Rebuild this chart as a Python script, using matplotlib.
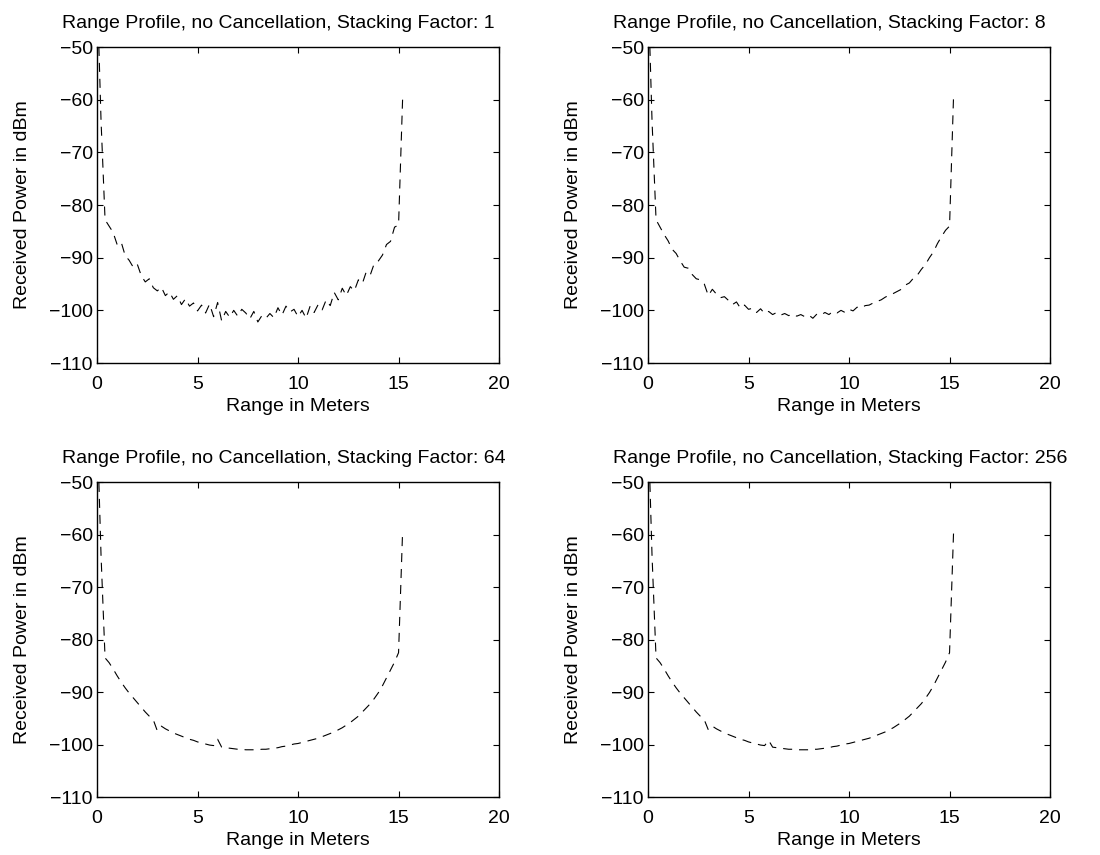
import matplotlib
matplotlib.use("Agg")
import matplotlib.pyplot as plt

plt.rcParams["font.family"] = ["Liberation Sans", "DejaVu Sans"]
plt.rcParams["font.size"] = 14
plt.rcParams["lines.scale_dashes"] = False

# range bins (m)
range_m = [0.0, 0.2, 0.4, 0.6, 0.8, 1.0, 1.2, 1.4, 1.6, 1.8,
           2.0, 2.2, 2.4, 2.6, 2.8, 3.0, 3.2, 3.4, 3.6, 3.8,
           4.0, 4.2, 4.4, 4.6, 4.8, 5.0, 5.2, 5.4, 5.6, 5.8,
           6.0, 6.2, 6.4, 6.6, 6.8, 7.0, 7.2, 7.4, 7.6, 7.8,
           8.0, 8.2, 8.4, 8.6, 8.8, 9.0, 9.2, 9.4, 9.6, 9.8,
           10.0, 10.2, 10.4, 10.6, 10.8, 11.0, 11.2, 11.4, 11.6, 11.8,
           12.0, 12.2, 12.4, 12.6, 12.8, 13.0, 13.2, 13.4, 13.6, 13.8,
           14.0, 14.2, 14.4, 14.6, 14.8, 15.0, 15.2]

# received power (dBm) per stacking factor
power_sf1 = [-38.0, -64.0, -82.8, -84.0, -85.2, -87.5, -87.0, -89.6, -90.5, -91.8,
             -91.2, -93.4, -94.6, -94.0, -95.7, -96.3, -95.6, -97.2, -96.5, -97.9,
             -97.2, -98.9, -97.8, -99.2, -98.6, -100.1, -99.0, -100.5, -98.8, -101.2,
             -98.5, -102.0, -100.2, -101.3, -100.0, -101.1, -99.8, -100.5, -101.6, -100.2,
             -102.2, -101.0, -101.5, -100.6, -101.4, -99.5, -100.9, -99.2, -100.3, -99.8,
             -101.2, -100.0, -101.5, -99.2, -100.4, -98.9, -99.9, -98.0, -99.1, -96.6,
             -98.0, -95.8, -97.2, -95.5, -96.3, -94.2, -94.9, -92.6, -93.2, -91.0,
             -90.6, -89.5, -87.5, -86.9, -84.2, -83.8, -60.0]

power_sf8 = [-38.0, -64.0, -82.8, -84.2, -85.6, -86.8, -88.4, -89.2, -90.6, -91.8,
             -92.0, -93.2, -94.0, -94.2, -95.0, -97.2, -96.0, -96.9, -97.6, -97.4,
             -98.1, -98.9, -98.4, -99.6, -99.0, -99.8, -99.6, -100.4, -99.7, -100.6,
             -100.2, -100.8, -100.4, -100.9, -100.6, -101.0, -100.7, -101.1, -100.8, -101.2,
             -100.9, -101.5, -100.7, -100.9, -100.4, -100.8, -100.2, -100.5, -100.0, -100.4,
             -99.8, -100.1, -99.4, -99.6, -99.1, -99.0, -98.6, -98.3, -98.0, -97.5,
             -97.1, -96.8, -96.4, -96.0, -95.2, -94.8, -93.9, -93.3, -92.2, -91.3,
             -90.0, -88.9, -87.3, -86.0, -84.8, -84.0, -59.2]

power_sf64 = [-38.0, -64.0, -83.5, -84.4, -85.6, -86.9, -88.1, -89.2, -90.2, -91.1,
              -92.0, -92.9, -93.8, -94.6, -95.3, -97.4, -96.5, -97.0, -97.4, -97.8,
              -98.1, -98.4, -98.7, -99.0, -99.2, -99.5, -99.7, -99.9, -100.1, -100.2,
              -99.0, -100.5, -100.6, -100.7, -100.8, -100.9, -100.9, -101.0, -101.0, -101.0,
              -101.0, -100.9, -100.9, -100.8, -100.7, -100.6, -100.4, -100.3, -100.1, -99.9,
              -99.8, -99.6, -99.4, -99.2, -99.0, -98.8, -98.5, -98.2, -97.9, -97.6,
              -97.2, -96.8, -96.3, -95.8, -95.2, -94.6, -93.8, -93.0, -92.2, -91.2,
              -90.1, -88.8, -87.3, -85.8, -84.3, -82.5, -59.5]

power_sf256 = [-38.0, -64.0, -83.5, -84.4, -85.6, -86.9, -88.1, -89.2, -90.2, -91.1,
               -92.0, -92.9, -93.8, -94.6, -95.3, -97.2, -96.5, -97.0, -97.4, -97.8,
               -98.1, -98.4, -98.7, -99.0, -99.2, -99.5, -99.7, -99.9, -100.1, -100.2,
               -99.2, -100.5, -100.6, -100.7, -100.8, -100.9, -100.9, -101.0, -101.0, -101.0,
               -101.0, -100.9, -100.9, -100.8, -100.7, -100.6, -100.4, -100.3, -100.1, -99.9,
               -99.8, -99.6, -99.4, -99.2, -99.0, -98.8, -98.5, -98.2, -97.9, -97.6,
               -97.2, -96.8, -96.3, -95.8, -95.2, -94.6, -93.8, -93.0, -92.2, -91.2,
               -90.1, -88.8, -87.3, -85.8, -84.3, -82.5, -59.5]

stacking_factors = [1, 8, 64, 256]
series = [power_sf1, power_sf8, power_sf64, power_sf256]

xticks = [0, 5, 10, 15, 20]
yticks = [-110, -100, -90, -80, -70, -60, -50]

# axes boxes in figure fraction (left, bottom, width, height)
boxes = [
    [0.0882, 0.5754, 0.3655, 0.3696],
    [0.5891, 0.5754, 0.3655, 0.3696],
    [0.0882, 0.0678, 0.3655, 0.3684],
    [0.5891, 0.0678, 0.3655, 0.3684],
]

fig = plt.figure(figsize=(11, 8.55), dpi=100, facecolor="white")

for box, sf, power in zip(boxes, stacking_factors, series):
    ax = fig.add_axes(box)
    ax.plot(range_m, power, color="black", linewidth=0.8,
            linestyle="--", dashes=(6.5, 5))
    ax.set_xlim(0, 20)
    ax.set_ylim(-110, -50)
    ax.set_xticks(xticks)
    ax.set_yticks(yticks)
    ax.tick_params(direction="in", length=4, width=0.8, top=True, right=True,
                   labelsize=14)
    ax.tick_params(axis="x", pad=9)
    ax.tick_params(axis="y", pad=3)
    for sp in ax.spines.values():
        sp.set_linewidth(1.0)
    ax.set_xlabel("Range in Meters", fontsize=14, labelpad=4)
    ax.set_ylabel("Received Power in dBm", fontsize=14)
    ax.yaxis.set_label_coords(-0.165, 0.5)
    ax.text(-0.088, 1.0 + 24 / 316,
            f"Range Profile, no Cancellation, Stacking Factor: {sf}",
            transform=ax.transAxes, ha="left", va="center", fontsize=14)

fig.savefig("out.png", dpi=100, facecolor="white")
